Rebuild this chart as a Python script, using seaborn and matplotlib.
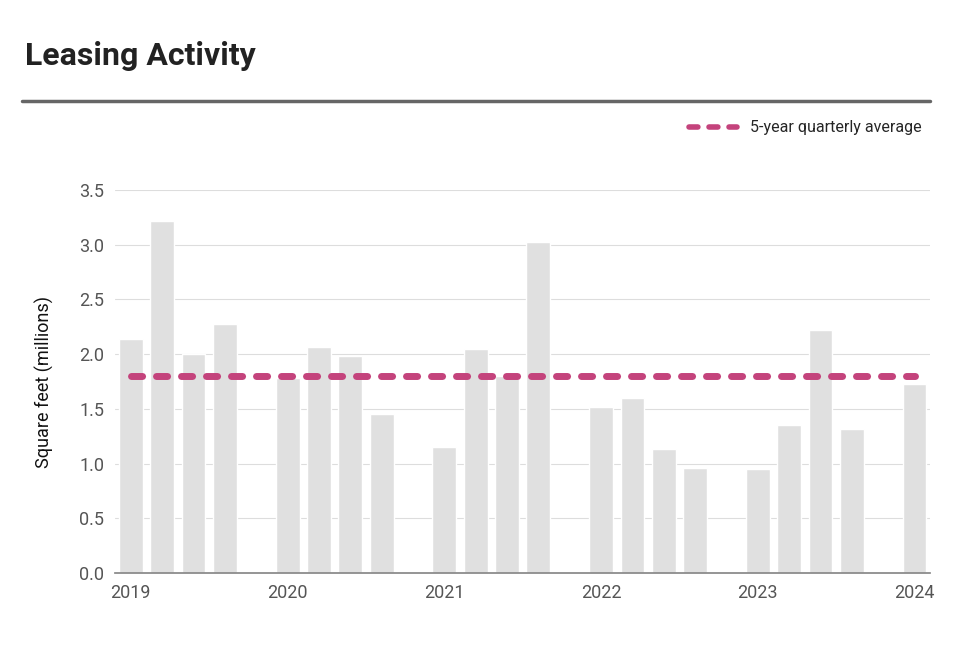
import matplotlib
matplotlib.use("Agg")
import matplotlib.pyplot as plt
import seaborn as sns
import pandas as pd
from matplotlib.lines import Line2D

years = ["2019", "2020", "2021", "2022", "2023", "2024"]
q2019 = [2.14, 3.22, 2.00, 2.28]
q2020 = [1.78, 2.07, 1.98, 1.45]
q2021 = [1.15, 2.05, 1.80, 3.02]
q2022 = [1.52, 1.60, 1.13, 0.96]
q2023 = [0.95, 1.35, 2.22, 1.32]
q2024 = [1.73]
avg_5yr = 1.80

# slots: 4 quarters per year, then one empty slot before the next year
slots, vals, tick_pos = [], [], []
for y, qs in zip(years, [q2019, q2020, q2021, q2022, q2023, q2024]):
    tick_pos.append(len(slots))
    for i, v in enumerate(qs):
        slots.append(f"{y} Q{i+1}")
        vals.append(v)
    if y != years[-1]:
        slots.append(f"gap {y}")
        vals.append(float("nan"))
df = pd.DataFrame({"slot": slots, "value": vals})

sns.set_theme(style="white")
plt.rcParams["font.family"] = ["Roboto", "DejaVu Sans"]

fig = plt.figure(figsize=(9.6, 6.55), dpi=100)
ax = fig.add_axes([0.12, 0.125, 0.849, 0.585])

sns.barplot(data=df, x="slot", y="value", order=slots, color="#e0e0e0",
            width=0.76, saturation=1, ax=ax, zorder=2)
sns.lineplot(x=[0, len(slots) - 1], y=[avg_5yr, avg_5yr], ax=ax,
             color="#c4437c", lw=5, dashes=(1.6, 2.0), zorder=3,
             solid_capstyle="round", dash_capstyle="round")

ax.set_ylim(0, 3.5)
ax.set_yticks([i * 0.5 for i in range(8)])
ax.set_yticklabels([f"{i*0.5:.1f}" for i in range(8)], color="#555555", fontsize=13)
ax.set_xlim(-0.5, len(slots) - 0.5)
ax.set_xticks(tick_pos)
ax.set_xticklabels(years, color="#555555", fontsize=13)
ax.tick_params(axis="both", length=0, pad=8)
ax.set_xlabel("")
ax.set_ylabel("Square feet (millions)", fontsize=13, color="#111111", labelpad=18)
ax.yaxis.grid(True, color="#dddddd", lw=0.8, zorder=0)
for s in ["top", "right", "left"]:
    ax.spines[s].set_visible(False)
ax.spines["bottom"].set_color("#888888")

fig.text(0.026, 0.915, "Leasing Activity", fontsize=23, fontweight="bold",
         color="#222222", va="center")
fig.add_artist(Line2D([0.023, 0.969], [0.846, 0.846], color="#666666", lw=2.5))

handle = Line2D([], [], color="#c4437c", lw=4, dashes=(1.6, 2.0),
                dash_capstyle="round")
fig.legend([handle], ["5-year quarterly average"], loc="center right",
           bbox_to_anchor=(0.975, 0.805), frameon=False, fontsize=11.5,
           handlelength=3)

fig.savefig("out.png", dpi=100)
